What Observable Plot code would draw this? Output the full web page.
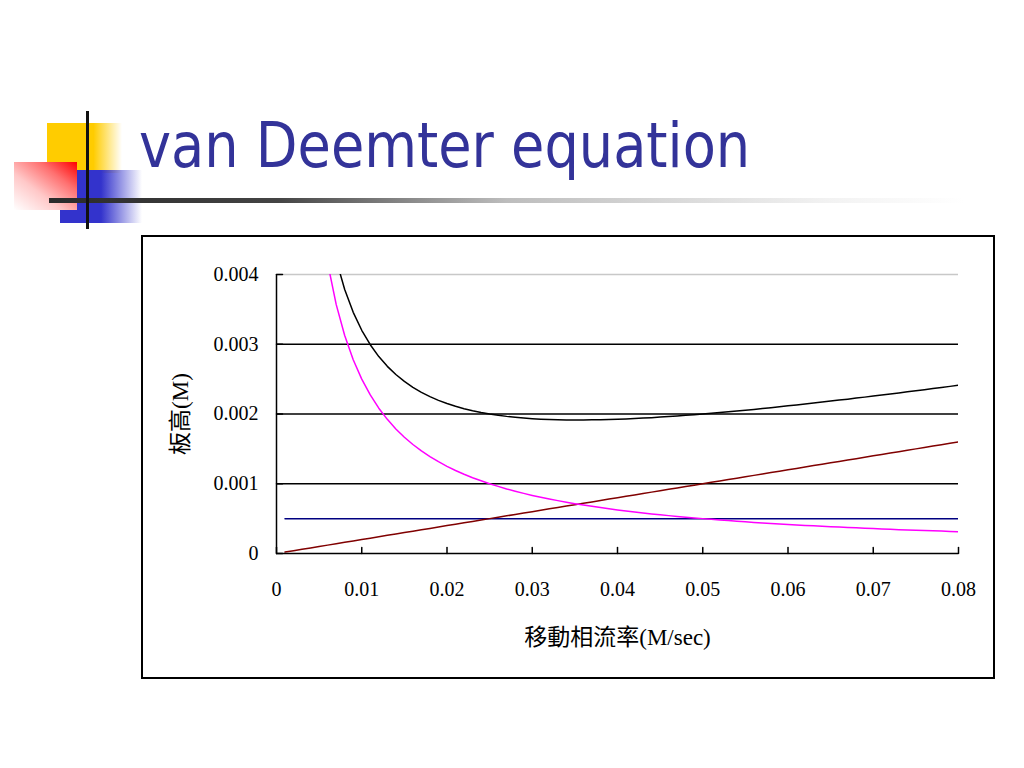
<!DOCTYPE html>
<html>
<head>
<meta charset="utf-8">
<script src="https://cdn.jsdelivr.net/npm/d3@7"></script>
<script src="https://cdn.jsdelivr.net/npm/@observablehq/plot@0.6"></script>
<style>
  html, body { margin: 0; padding: 0; background: #fff; }
  body { width: 1024px; height: 768px; position: relative; overflow: hidden; }
  .deco { position: absolute; }
  #title { position: absolute; left: 139px; top: 114px; font-family: "DejaVu Sans", Verdana, sans-serif; font-size: 63px; color: #333399; white-space: nowrap; line-height: 1; transform: scaleX(0.86); transform-origin: 0 0; }
  #box { position: absolute; left: 141px; top: 235px; width: 850px; height: 440px; border: 2px solid #000; }
  #chart { position: absolute; left: 141px; top: 235px; }
</style>
</head>
<body>
<div class="deco" style="left:47px;top:123px;width:75px;height:50px;background:linear-gradient(to right,#FFCC00 0%,#FFCC00 62%,rgba(255,204,0,0) 100%);"></div>
<div class="deco" style="left:60px;top:170px;width:82px;height:53px;background:linear-gradient(to right,#3333CC 0%,#3333CC 50%,rgba(51,51,204,0) 100%);"></div>
<div class="deco" style="left:14px;top:162px;width:63px;height:48px;background:linear-gradient(to bottom left,#FF0000 0%,#FF7070 30%,#FFC8C8 62%,#FFFFFF 100%);"></div>
<div class="deco" style="left:49px;top:198px;width:915px;height:5px;background:linear-gradient(to right,#2a2a2a 0%,#444 25%,#bdbdbd 50%,#f2f2f2 85%,rgba(255,255,255,0) 100%);"></div>
<div class="deco" style="left:86px;top:111px;width:3px;height:118px;background:#111;"></div>
<div id="title">van Deemter equation</div>
<div id="box"></div>
<div id="chart"></div>
<script>
// Mobile-phase flow rate (x)
const flowRate = [0.001,0.002,0.003,0.004,0.005,0.006,0.007,0.008,0.009,0.010,
  0.011,0.012,0.013,0.014,0.015,0.016,0.017,0.018,0.019,0.020,
  0.021,0.022,0.023,0.024,0.025,0.026,0.027,0.028,0.029,0.030,
  0.031,0.032,0.033,0.034,0.035,0.036,0.037,0.038,0.039,0.040,
  0.041,0.042,0.043,0.044,0.045,0.046,0.047,0.048,0.049,0.050,
  0.051,0.052,0.053,0.054,0.055,0.056,0.057,0.058,0.059,0.060,
  0.061,0.062,0.063,0.064,0.065,0.066,0.067,0.068,0.069,0.070,
  0.071,0.072,0.073,0.074,0.075,0.076,0.077,0.078,0.079,0.080];
// Total plate height H (black)
const plateHeight = [0.02552,0.01304,0.008893,0.00683,0.0056,0.004787,0.004211,0.003785,0.003458,0.0032,
  0.002993,0.002823,0.002683,0.002566,0.002467,0.002383,0.002311,0.002249,0.002196,0.00215,
  0.00211,0.002076,0.002047,0.002022,0.002,0.001982,0.001966,0.001953,0.001942,0.001933,
  0.001926,0.001921,0.001918,0.001915,0.001914,0.001914,0.001916,0.001918,0.001921,0.001925,
  0.00193,0.001935,0.001941,0.001948,0.001956,0.001963,0.001972,0.001981,0.00199,0.002,
  0.00201,0.002021,0.002032,0.002043,0.002055,0.002066,0.002079,0.002091,0.002104,0.002117,
  0.00213,0.002143,0.002157,0.002171,0.002185,0.002199,0.002213,0.002228,0.002242,0.002257,
  0.002272,0.002287,0.002302,0.002318,0.002333,0.002349,0.002365,0.002381,0.002396,0.002413];
// Longitudinal diffusion term B/u (magenta)
const termB = [0.025,0.0125,0.008333,0.00625,0.005,0.004167,0.003571,0.003125,0.002778,0.0025,
  0.002273,0.002083,0.001923,0.001786,0.001667,0.001563,0.001471,0.001389,0.001316,0.00125,
  0.00119,0.001136,0.001087,0.001042,0.001,0.000962,0.000926,0.000893,0.000862,0.000833,
  0.000806,0.000781,0.000758,0.000735,0.000714,0.000694,0.000676,0.000658,0.000641,0.000625,
  0.00061,0.000595,0.000581,0.000568,0.000556,0.000543,0.000532,0.000521,0.00051,0.0005,
  0.00049,0.000481,0.000472,0.000463,0.000455,0.000446,0.000439,0.000431,0.000424,0.000417,
  0.00041,0.000403,0.000397,0.000391,0.000385,0.000379,0.000373,0.000368,0.000362,0.000357,
  0.000352,0.000347,0.000342,0.000338,0.000333,0.000329,0.000325,0.000321,0.000316,0.000313];
// Mass-transfer term C*u (brown)
const termC = [0.00002,0.00004,0.00006,0.00008,0.0001,0.00012,0.00014,0.00016,0.00018,0.0002,
  0.00022,0.00024,0.00026,0.00028,0.0003,0.00032,0.00034,0.00036,0.00038,0.0004,
  0.00042,0.00044,0.00046,0.00048,0.0005,0.00052,0.00054,0.00056,0.00058,0.0006,
  0.00062,0.00064,0.00066,0.00068,0.0007,0.00072,0.00074,0.00076,0.00078,0.0008,
  0.00082,0.00084,0.00086,0.00088,0.0009,0.00092,0.00094,0.00096,0.00098,0.001,
  0.00102,0.00104,0.00106,0.00108,0.0011,0.00112,0.00114,0.00116,0.00118,0.0012,
  0.00122,0.00124,0.00126,0.00128,0.0013,0.00132,0.00134,0.00136,0.00138,0.0014,
  0.00142,0.00144,0.00146,0.00148,0.0015,0.00152,0.00154,0.00156,0.00158,0.0016];
// Eddy diffusion term A (navy)
const termA = [0.0005,0.0005,0.0005,0.0005,0.0005,0.0005,0.0005,0.0005,0.0005,0.0005,
  0.0005,0.0005,0.0005,0.0005,0.0005,0.0005,0.0005,0.0005,0.0005,0.0005,
  0.0005,0.0005,0.0005,0.0005,0.0005,0.0005,0.0005,0.0005,0.0005,0.0005,
  0.0005,0.0005,0.0005,0.0005,0.0005,0.0005,0.0005,0.0005,0.0005,0.0005,
  0.0005,0.0005,0.0005,0.0005,0.0005,0.0005,0.0005,0.0005,0.0005,0.0005,
  0.0005,0.0005,0.0005,0.0005,0.0005,0.0005,0.0005,0.0005,0.0005,0.0005,
  0.0005,0.0005,0.0005,0.0005,0.0005,0.0005,0.0005,0.0005,0.0005,0.0005,
  0.0005,0.0005,0.0005,0.0005,0.0005,0.0005,0.0005,0.0005,0.0005,0.0005];

const xTicks = [0,0.01,0.02,0.03,0.04,0.05,0.06,0.07,0.08];
const xTickLabels = ["0","0.01","0.02","0.03","0.04","0.05","0.06","0.07","0.08"];
const yTicks = [0,0.001,0.002,0.003,0.004];
const yTickLabels = ["0","0.001","0.002","0.003","0.004"];
const yGrid = [0.001,0.002,0.003];
const yGridLight = [0.004];
const xLabel = "移動相流率(M/sec)";
const yLabel = "板高(M)";

const seriesList = [
  {name: "A", values: termA, color: "#000080"},
  {name: "C", values: termC, color: "#800000"},
  {name: "B", values: termB, color: "#FF00FF"},
  {name: "H", values: plateHeight, color: "#000000"}
];
const rows = [];
for (const s of seriesList) flowRate.forEach((u, i) => rows.push({u, h: s.values[i], series: s.name}));

const tickShape = {draw(context, l) { context.moveTo(0, 0); context.lineTo(0, -l); }};
const serif = "'Liberation Serif', 'Times New Roman', 'Noto Sans CJK TC', serif";

const chart = Plot.plot({
  width: 852, height: 442,
  marginLeft: 135, marginRight: 35, marginTop: 39, marginBottom: 124,
  style: {fontFamily: serif, fontSize: "20px", color: "#000", background: "transparent"},
  x: {domain: [0, 0.08]},
  y: {domain: [0, 0.004]},
  color: {domain: seriesList.map(s => s.name), range: seriesList.map(s => s.color)},
  marks: [
    Plot.ruleY(yGridLight, {stroke: "#c8c8c8", strokeWidth: 1.5}),
    Plot.ruleY(yGrid, {stroke: "#000", strokeWidth: 1.5}),
    Plot.line(rows, {x: "u", y: "h", z: "series", stroke: "series", strokeWidth: 1.5, clip: true}),
    Plot.ruleX([0], {stroke: "#000", strokeWidth: 1.5}),
    Plot.ruleY([0], {stroke: "#000", strokeWidth: 1.5}),
    Plot.vector(xTicks, {x: d => d, y: 0, length: 6, rotate: 0, anchor: "start", shape: tickShape, stroke: "#000", strokeWidth: 1.5}),
    Plot.vector(yTicks, {x: 0, y: d => d, length: 6, rotate: 90, anchor: "start", shape: tickShape, stroke: "#000", strokeWidth: 1.5}),
    Plot.axisX({ticks: xTicks, tickSize: 0, tickPadding: 28, tickFormat: (d, i) => xTickLabels[i], label: null, fontSize: 20}),
    Plot.axisY({ticks: yTicks, tickSize: 0, tickPadding: 18, tickFormat: (d, i) => yTickLabels[i], label: null, fontSize: 20}),
    Plot.text([xLabel], {frameAnchor: "bottom", dy: 84, lineAnchor: "middle", textAnchor: "middle", fontSize: 23, fill: "#000"}),
    Plot.text([yLabel], {frameAnchor: "left", dx: -96, rotate: -90, lineAnchor: "middle", textAnchor: "middle", fontSize: 23, fill: "#000"})
  ]
});
document.getElementById("chart").appendChild(chart);
</script>
</body>
</html>
